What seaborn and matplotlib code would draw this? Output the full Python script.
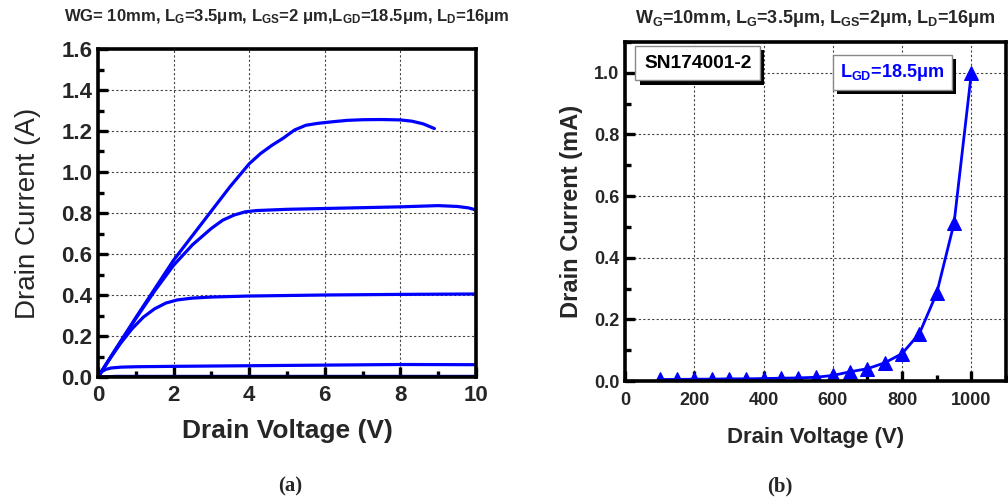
import numpy as np
import pandas as pd
import seaborn as sns
import matplotlib
matplotlib.use("Agg")
import matplotlib.pyplot as plt
from matplotlib.ticker import MultipleLocator
import matplotlib.patheffects as pe

# ---- output characteristics (Id vs Vd), one curve per gate step ----
vd_1 = [0, 0.5, 2, 4, 6, 8, 10]
id_1 = [0.0, 0.003, 0.003, 0.003, 0.003, 0.003, 0.003]

vd_2 = [0, 0.05, 0.1, 0.2, 0.35, 0.6, 1, 2, 4, 6, 8, 10]
id_2 = [0.0, 0.015, 0.026, 0.037, 0.044, 0.048, 0.050, 0.052, 0.055, 0.058, 0.061, 0.060]

vd_3 = [0, 0.3, 0.6, 0.9, 1.2, 1.5, 1.8, 2.1, 2.5, 3, 4, 6, 8, 10]
id_3 = [0.0, 0.085, 0.165, 0.235, 0.292, 0.333, 0.361, 0.376, 0.385, 0.39, 0.395, 0.40, 0.403, 0.405]

vd_4 = [0, 0.5, 1, 1.5, 2, 2.5, 3, 3.3, 3.6, 3.9, 4.2, 5, 6, 7, 8, 9, 9.5, 9.8, 10]
id_4 = [0.0, 0.145, 0.285, 0.42, 0.545, 0.645, 0.725, 0.765, 0.79, 0.806, 0.812, 0.818,
        0.822, 0.826, 0.83, 0.836, 0.832, 0.825, 0.815]

vd_5 = [0, 0.5, 1, 1.5, 2, 2.5, 3, 3.5, 4, 4.3, 4.6, 4.9, 5.2, 5.5, 5.8, 6.2, 6.6, 7, 7.5,
        8, 8.3, 8.6, 8.9]
id_5 = [0.0, 0.145, 0.29, 0.43, 0.57, 0.69, 0.81, 0.93, 1.04, 1.09, 1.13, 1.165, 1.205,
        1.228, 1.237, 1.245, 1.252, 1.255, 1.256, 1.254, 1.248, 1.235, 1.212]

# ---- off-state breakdown sweep ----
bv_voltage = [100, 150, 200, 250, 300, 350, 400, 450, 500, 550, 600,
              650, 700, 750, 800, 850, 900, 950, 1000]
bv_current = [0.005, 0.005, 0.006, 0.006, 0.007, 0.007, 0.008, 0.009, 0.010, 0.012, 0.018,
              0.030, 0.040, 0.059, 0.089, 0.154, 0.285, 0.512, 1.0]

sns.set_theme(style="ticks")
plt.rcParams["font.family"] = ["Liberation Sans", "DejaVu Sans"]
plt.rcParams["mathtext.fontset"] = "custom"
plt.rcParams["mathtext.bf"] = "Liberation Sans:bold"
plt.rcParams["mathtext.rm"] = "Liberation Sans:bold"
plt.rcParams["mathtext.default"] = "bf"

BLUE = "#0000ff"

curves = []
for k, (v, i) in enumerate([(vd_1, id_1), (vd_2, id_2), (vd_3, id_3), (vd_4, id_4), (vd_5, id_5)]):
    curves.append(pd.DataFrame({"Vd": v, "Id": i, "curve": k}))
iv = pd.concat(curves, ignore_index=True)
bv = pd.DataFrame({"Vd": bv_voltage, "Id": bv_current})

fig = plt.figure(figsize=(10.08, 4.98), dpi=100)
ax1 = fig.add_axes([98 / 1008, 1 - 377 / 498, 378 / 1008, 328 / 498])
ax2 = fig.add_axes([625 / 1008, 1 - 381 / 498, 381 / 1008, 339 / 498])


def style_axes(ax, tick_size, pad):
    for side in ["left", "bottom", "top", "right"]:
        ax.spines[side].set_visible(True)
        ax.spines[side].set_linewidth(2.6)
        ax.spines[side].set_color("black")
    ax.tick_params(which="both", direction="in", top=False, right=False,
                   width=2.4, color="black", labelsize=tick_size)
    ax.tick_params(axis="x", which="both", pad=pad)
    ax.tick_params(axis="y", which="both", pad=4)
    ax.tick_params(which="major", length=7)
    ax.tick_params(which="minor", length=4)
    for lab in ax.get_xticklabels() + ax.get_yticklabels():
        lab.set_fontweight("bold")
    ax.grid(True, which="major", linestyle=(0, (2, 2)), color="#444444", linewidth=0.8)
    ax.set_axisbelow(True)


# (a) output characteristics
sns.lineplot(data=iv, x="Vd", y="Id", units="curve", estimator=None, sort=False,
             color=BLUE, linewidth=2.3, ax=ax1, legend=False)
ax1.set_xlim(0, 10)
ax1.set_ylim(0, 1.6)
ax1.set_xticks(range(0, 11, 2))
ax1.set_xticklabels([str(t) for t in range(0, 11, 2)])
ax1.xaxis.set_minor_locator(MultipleLocator(1))
ax1.set_yticks(np.round(np.arange(0, 1.61, 0.2), 1))
ax1.set_yticklabels([f"{t:.1f}" for t in np.arange(0, 1.61, 0.2)])
ax1.yaxis.set_minor_locator(MultipleLocator(0.1))
style_axes(ax1, 16, 6)
ax1.set_xlabel("Drain Voltage (V)", fontsize=19, fontweight="bold", labelpad=9)
ax1.set_ylabel("Drain Current (A)", fontsize=20, fontweight="normal", labelpad=15)
ax1.set_title(r"WG= 10mm, L$_{G}$=3.5μm, L$_{GS}$=2 μm,L$_{GD}$=18.5μm, L$_{D}$=16μm",
              fontsize=12, fontweight="bold", pad=20)

# (b) breakdown characteristic
sns.lineplot(data=bv, x="Vd", y="Id", color=BLUE, linewidth=2.0, marker="^",
             markersize=10, markeredgecolor=BLUE, ax=ax2, legend=False)
ax2.set_xlim(0, 1100)
ax2.set_ylim(0, 1.1)
ax2.set_xticks(range(0, 1001, 200))
ax2.set_xticklabels([str(t) for t in range(0, 1001, 200)])
ax2.xaxis.set_minor_locator(MultipleLocator(100))
ax2.set_yticks(np.round(np.arange(0, 1.01, 0.2), 1))
ax2.set_yticklabels([f"{t:.1f}" for t in np.arange(0, 1.01, 0.2)])
ax2.yaxis.set_minor_locator(MultipleLocator(0.1))
style_axes(ax2, 13, 8)
ax2.set_xlabel("Drain Voltage (V)", fontsize=16, fontweight="bold", labelpad=13)
ax2.set_ylabel("Drain Current (mA)", fontsize=17, fontweight="bold", labelpad=8)
ax2.set_title(r"W$_{G}$=10mm, L$_{G}$=3.5μm, L$_{GS}$=2μm, L$_{D}$=16μm",
              fontsize=13, fontweight="bold", pad=14)

shadow = [pe.SimplePatchShadow(offset=(3, -3), shadow_rgbFace="black", alpha=1.0), pe.Normal()]
t1 = ax2.text(0.05, 0.937, "SN174001-2", transform=ax2.transAxes, fontsize=13.8,
              fontweight="bold", color="black", ha="left", va="center",
              bbox=dict(boxstyle="square,pad=0.45", facecolor="white", edgecolor="#888888", linewidth=1))
t1.get_bbox_patch().set_path_effects(shadow)
t2 = ax2.text(0.565, 0.91, r"L$_{GD}$=18.5μm", transform=ax2.transAxes, fontsize=13,
              fontweight="bold", color=BLUE, ha="left", va="center",
              bbox=dict(boxstyle="square,pad=0.4", facecolor="white", edgecolor="#888888", linewidth=1))
t2.get_bbox_patch().set_path_effects(shadow)

fig.text(290 / 1008, 1 - 486 / 498, "(a)", fontsize=15, fontweight="bold",
         family=["Liberation Serif", "DejaVu Serif"], ha="center", va="center")
fig.text(780 / 1008, 1 - 486 / 498, "(b)", fontsize=15, fontweight="bold",
         family=["Liberation Serif", "DejaVu Serif"], ha="center", va="center")

fig.savefig("out.png", dpi=100, facecolor="white")
